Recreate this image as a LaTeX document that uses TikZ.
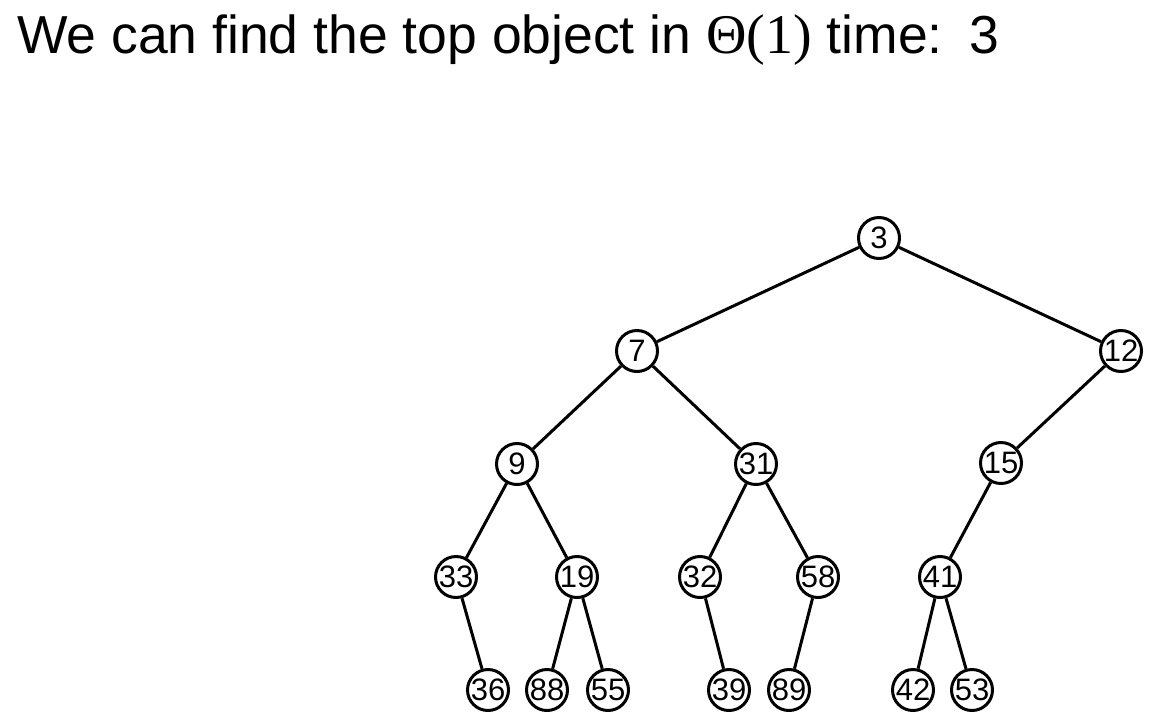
\documentclass[tikz,border=0pt]{standalone}
\usepackage{fontspec}
\setmainfont{Liberation Sans}
\newfontfamily\serifTimes{Liberation Serif}
\begin{document}
\begin{tikzpicture}[x=1pt,y=-1pt,
  hn/.style={circle,draw=black,line width=3pt,fill=white,minimum size=41pt,inner sep=0pt,font=\fontsize{31}{31}\selectfont},
  ed/.style={line width=3pt,black}]
\useasboundingbox (0,0) rectangle (1169,721);
\node[anchor=base west,inner sep=0pt,font=\fontsize{53.5}{53.5}\selectfont] (title) at (17,53)
  {We can find the top object in {\serifTimes\fontsize{56}{56}\selectfont Θ(1)} time:\hspace{27pt}3};
\node[hn] (n3) at (879,238) {3};
\node[hn] (n7) at (637,351) {7};
\node[hn] (n12) at (1121,351) {12};
\node[hn] (n9) at (517,464) {9};
\node[hn] (n31) at (756,464) {31};
\node[hn] (n15) at (1001,463) {15};
\node[hn] (n33) at (456,577) {33};
\node[hn] (n19) at (577,577) {19};
\node[hn] (n32) at (700,577) {32};
\node[hn] (n58) at (818,577) {58};
\node[hn] (n41) at (940,577) {41};
\node[hn] (n36) at (488,690) {36};
\node[hn] (n88) at (547,690) {88};
\node[hn] (n55) at (608,690) {55};
\node[hn] (n39) at (729,690) {39};
\node[hn] (n89) at (789,690) {89};
\node[hn] (n42) at (913,690) {42};
\node[hn] (n53) at (972,690) {53};
\foreach \a/\b in {n3/n7,n3/n12,n7/n9,n7/n31,n12/n15,n9/n33,n9/n19,n31/n32,n31/n58,n15/n41,n33/n36,n19/n88,n19/n55,n32/n39,n58/n89,n41/n42,n41/n53}
  \draw[ed] (\a) -- (\b);
\end{tikzpicture}
\end{document}
